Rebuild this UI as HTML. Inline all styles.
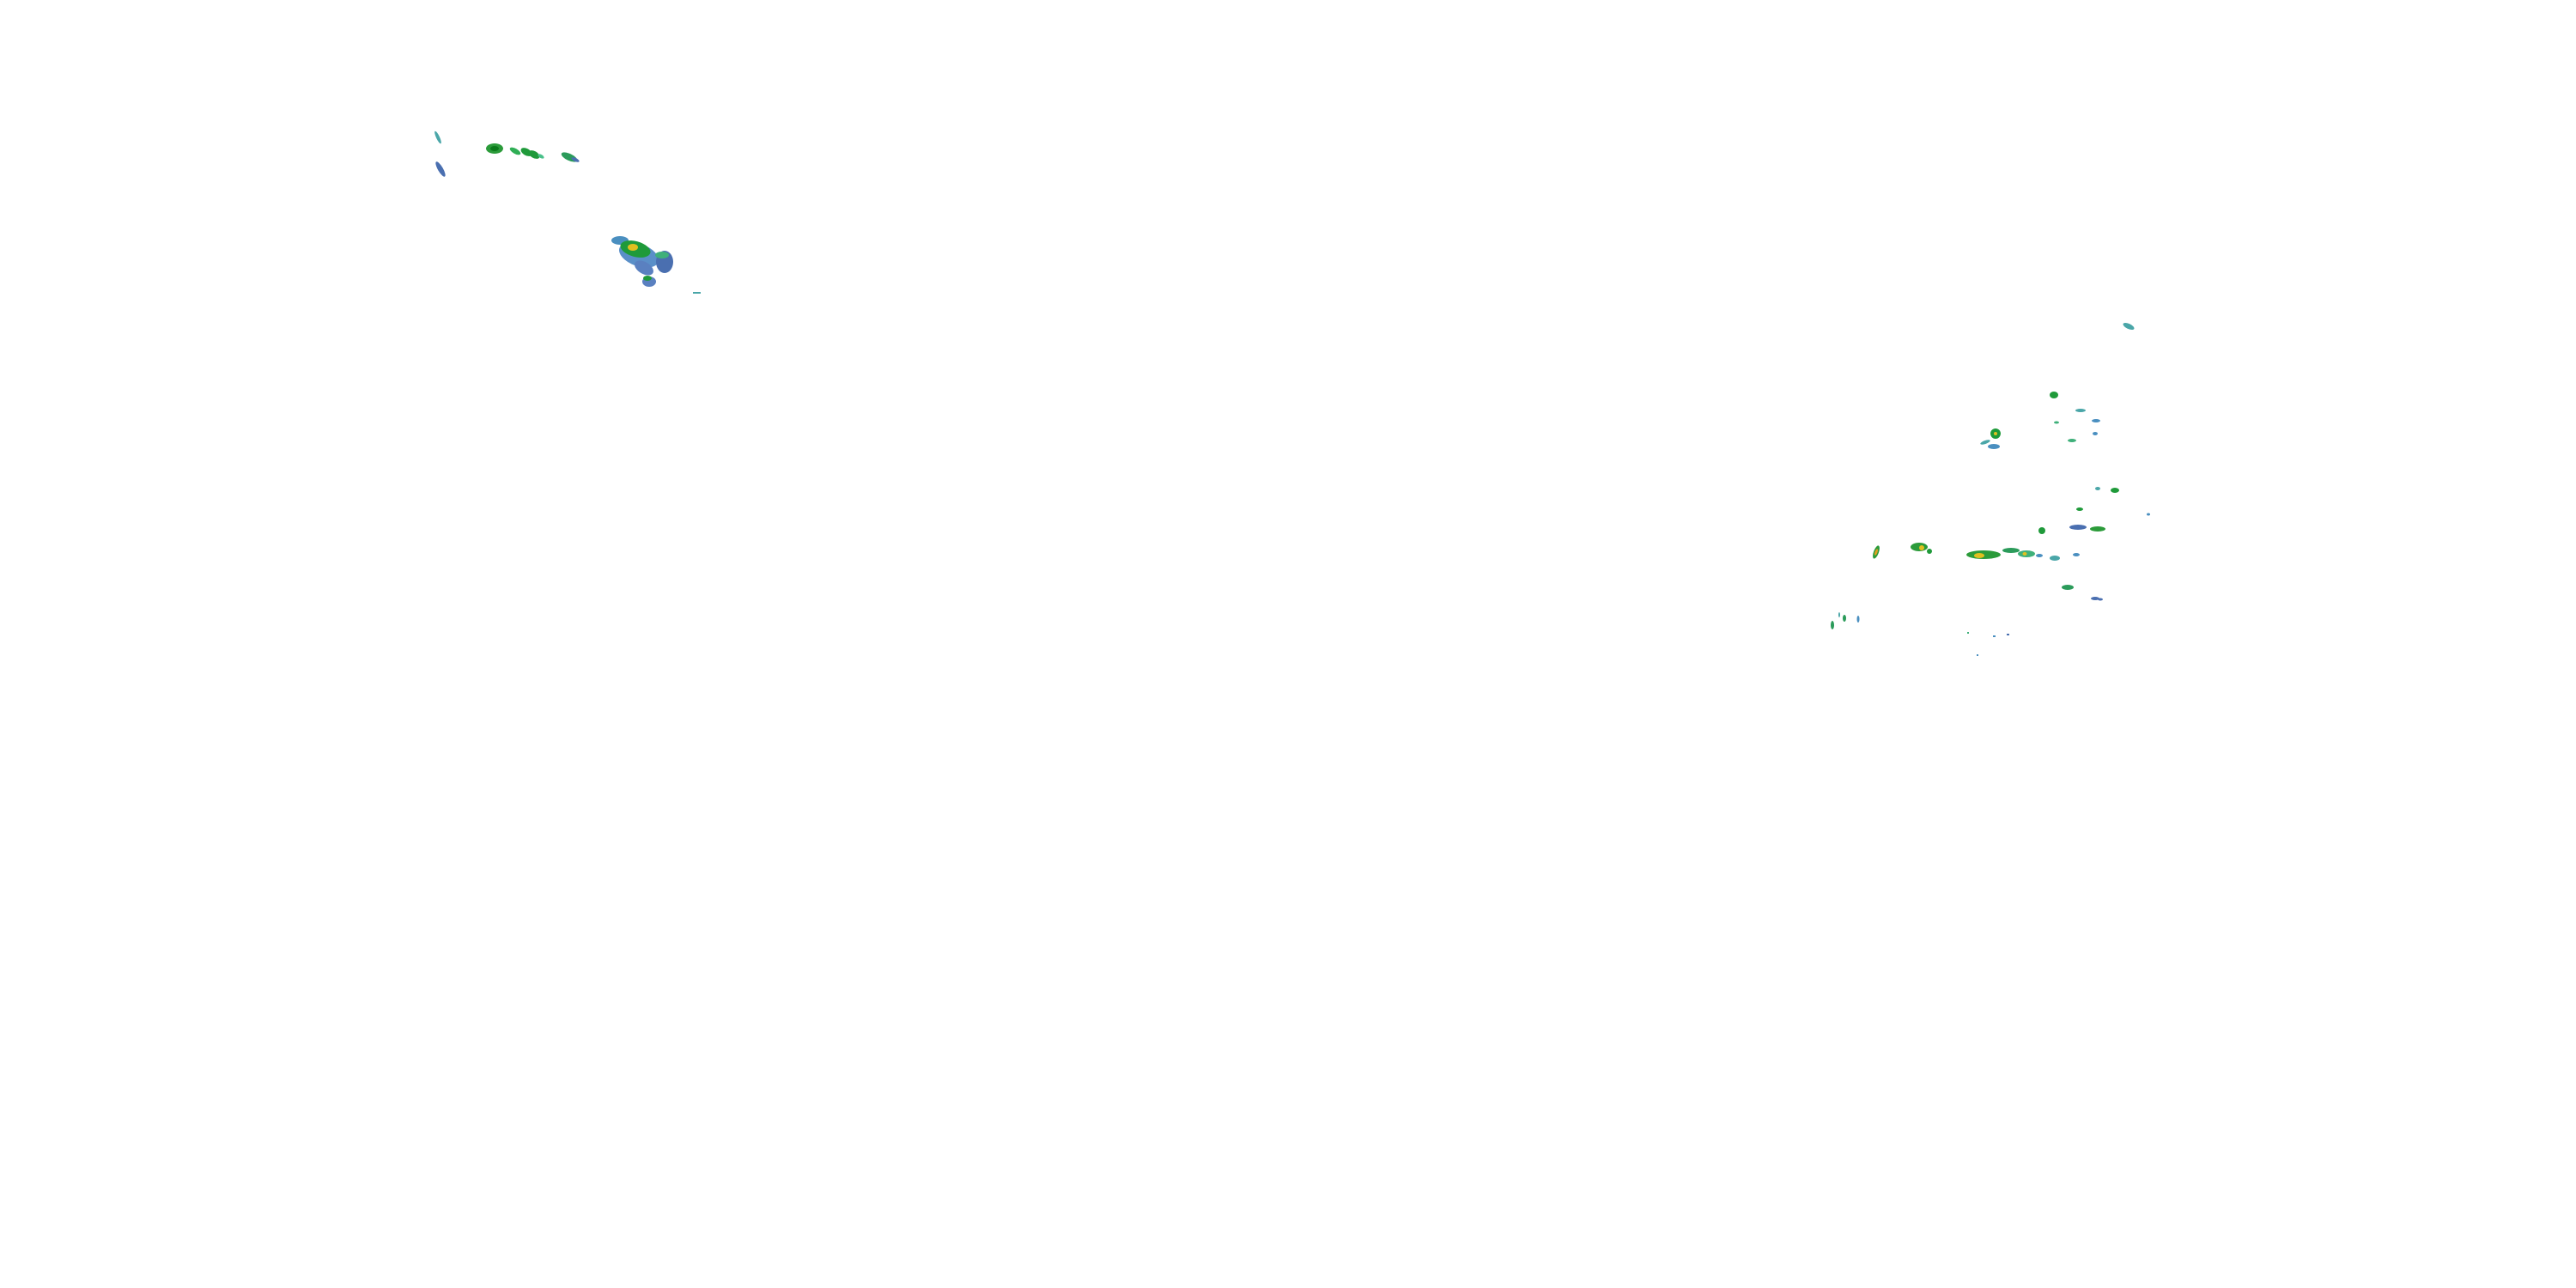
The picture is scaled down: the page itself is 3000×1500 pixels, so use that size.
<!DOCTYPE html>
<html><head><meta charset="utf-8"><style>html,body{margin:0;padding:0;background:#fff}svg{display:block}</style></head>
<body>
<svg width="3000" height="1500" viewBox="0 0 3000 1500" xmlns="http://www.w3.org/2000/svg">
<g transform="rotate(0)">
<!-- left cluster -->
<ellipse cx="510" cy="160" rx="2" ry="8" fill="#4aa6a8" transform="rotate(-25 510 160)"/>
<ellipse cx="513" cy="197" rx="3" ry="10" fill="#4a6fb0" transform="rotate(-30 513 197)"/>
<ellipse cx="576" cy="173" rx="10" ry="6" fill="#2b9b3a"/>
<ellipse cx="576" cy="173" rx="5" ry="3" fill="#0a7a1a"/>
<ellipse cx="600" cy="176" rx="7" ry="3" fill="#2fae55" transform="rotate(30 600 176)"/>
<ellipse cx="613" cy="177" rx="7" ry="4" fill="#1f9a3a" transform="rotate(30 613 177)"/>
<ellipse cx="622" cy="180" rx="7" ry="4" fill="#1f9a3a" transform="rotate(30 622 180)"/>
<ellipse cx="630" cy="182" rx="4" ry="2" fill="#4ac08a" transform="rotate(30 630 182)"/>
<ellipse cx="663" cy="183" rx="10" ry="4" fill="#2b9b5a" transform="rotate(25 663 183)"/>
<ellipse cx="670" cy="186" rx="5" ry="2" fill="#4a6fb0" transform="rotate(25 670 186)"/>
<ellipse cx="722" cy="280" rx="10" ry="5" fill="#4a8fc0"/>
<ellipse cx="744" cy="297" rx="24" ry="13" fill="#5a8fc8" transform="rotate(20 744 297)"/>
<ellipse cx="740" cy="290" rx="18" ry="9" fill="#1f9a3a" transform="rotate(15 740 290)"/>
<ellipse cx="737" cy="288" rx="6" ry="4" fill="#e0c020"/>
<ellipse cx="750" cy="312" rx="12" ry="7" fill="#5a80c0" transform="rotate(30 750 312)"/>
<ellipse cx="774" cy="305" rx="10" ry="13" fill="#4a6fb0"/>
<ellipse cx="771" cy="297" rx="8" ry="4" fill="#3fb07a"/>
<ellipse cx="756" cy="328" rx="8" ry="6" fill="#5a80c0"/>
<ellipse cx="754" cy="324" rx="5" ry="3" fill="#1f9a3a"/>
<rect x="807" y="340" width="9" height="2" fill="#4aa6a8"/>
<!-- right cluster -->
<ellipse cx="2479" cy="380" rx="7" ry="3" fill="#4aa6a8" transform="rotate(25 2479 380)"/>
<ellipse cx="2392" cy="460" rx="5" ry="4" fill="#1f9a3a"/>
<ellipse cx="2324" cy="505" rx="6" ry="6" fill="#1f9a3a"/>
<ellipse cx="2324" cy="505" rx="2" ry="2" fill="#e0c020"/>
<ellipse cx="2322" cy="520" rx="7" ry="3" fill="#4a8fc0"/>
<ellipse cx="2312" cy="515" rx="6" ry="2" fill="#4aa6a8" transform="rotate(-20 2312 515)"/>
<ellipse cx="2423" cy="478" rx="6" ry="2" fill="#4aa6a8"/>
<ellipse cx="2441" cy="490" rx="5" ry="2" fill="#4a8fc0"/>
<ellipse cx="2413" cy="513" rx="5" ry="2" fill="#3fb07a"/>
<ellipse cx="2395" cy="492" rx="3" ry="1.5" fill="#3fb07a"/>
<ellipse cx="2440" cy="505" rx="3" ry="2" fill="#4a8fc0"/>
<ellipse cx="2463" cy="571" rx="5" ry="3" fill="#1f9a3a"/>
<ellipse cx="2443" cy="569" rx="3" ry="2" fill="#4aa6a8"/>
<ellipse cx="2422" cy="593" rx="4" ry="2" fill="#1f9a3a"/>
<ellipse cx="2420" cy="614" rx="10" ry="3" fill="#4a6fb0"/>
<ellipse cx="2443" cy="616" rx="9" ry="3" fill="#2b9b3a"/>
<ellipse cx="2378" cy="618" rx="4" ry="4" fill="#1f9a3a"/>
<ellipse cx="2185" cy="643" rx="3" ry="8" fill="#2b9b3a" transform="rotate(20 2185 643)"/>
<ellipse cx="2185" cy="643" rx="1.5" ry="4" fill="#e0a020" transform="rotate(20 2185 643)"/>
<ellipse cx="2235" cy="637" rx="10" ry="5" fill="#2b9b3a"/>
<ellipse cx="2238" cy="638" rx="3" ry="3" fill="#e0c020"/>
<ellipse cx="2247" cy="642" rx="3" ry="3" fill="#1f9a3a"/>
<ellipse cx="2310" cy="646" rx="20" ry="5" fill="#2b9b3a"/>
<ellipse cx="2305" cy="647" rx="6" ry="3" fill="#e0c020"/>
<ellipse cx="2342" cy="641" rx="10" ry="3" fill="#2b9b5a"/>
<ellipse cx="2360" cy="645" rx="10" ry="4" fill="#3fb07a"/>
<ellipse cx="2358" cy="645" rx="2.5" ry="2" fill="#e0c020"/>
<ellipse cx="2375" cy="647" rx="4" ry="2" fill="#4a8fc0"/>
<ellipse cx="2393" cy="650" rx="6" ry="3" fill="#4aa6a8"/>
<ellipse cx="2418" cy="646" rx="4" ry="2" fill="#4a8fc0"/>
<ellipse cx="2408" cy="684" rx="7" ry="3" fill="#2b9b5a"/>
<ellipse cx="2440" cy="697" rx="5" ry="2" fill="#4a6fb0"/>
<ellipse cx="2446" cy="698" rx="3" ry="1.5" fill="#4a6fb0"/>
<ellipse cx="2502" cy="599" rx="2" ry="1.5" fill="#4a8fc0"/>
<ellipse cx="2134" cy="728" rx="2" ry="5" fill="#2b9b5a"/>
<ellipse cx="2148" cy="720" rx="2" ry="4" fill="#2b9b5a"/>
<ellipse cx="2164" cy="721" rx="1.5" ry="4" fill="#4a8fc0"/>
<ellipse cx="2142" cy="716" rx="1" ry="3" fill="#4aa6a8"/>
<rect x="2291" y="736" width="2" height="2" fill="#3fb07a"/>
<rect x="2321" y="740" width="3" height="2" fill="#4a8fc0"/>
<rect x="2337" y="738" width="3" height="2" fill="#4a6fb0"/>
<rect x="2302" y="762" width="2" height="2" fill="#4a8fc0"/>
</g>
</svg>
</body></html>
